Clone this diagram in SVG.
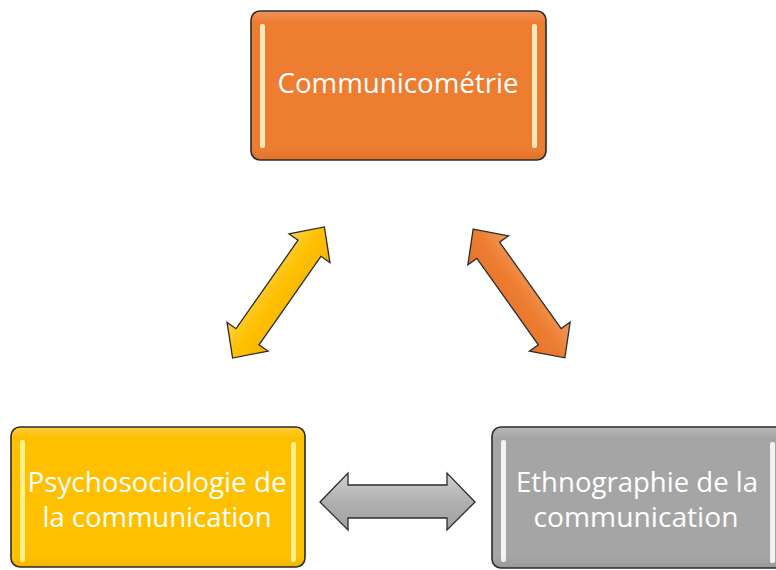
<svg xmlns="http://www.w3.org/2000/svg" width="776" height="570" viewBox="0 0 776 570">
<defs>
<linearGradient id="gOr" x1="0" y1="0" x2="0" y2="1"><stop offset="0" stop-color="#F0935A"/><stop offset="0.08" stop-color="#ED7D31"/><stop offset="0.92" stop-color="#ED7D31"/><stop offset="1" stop-color="#E0722A"/></linearGradient>
<linearGradient id="gYe" x1="0" y1="0" x2="0" y2="1"><stop offset="0" stop-color="#FFCD40"/><stop offset="0.08" stop-color="#FFC000"/><stop offset="0.92" stop-color="#FFC000"/><stop offset="1" stop-color="#F2B400"/></linearGradient>
<linearGradient id="gGr" x1="0" y1="0" x2="0" y2="1"><stop offset="0" stop-color="#B8B8B8"/><stop offset="0.08" stop-color="#A5A5A5"/><stop offset="0.92" stop-color="#A5A5A5"/><stop offset="1" stop-color="#999"/></linearGradient>
<linearGradient id="aGr" x1="0" y1="0" x2="0" y2="1"><stop offset="0" stop-color="#D0D0D0"/><stop offset="0.5" stop-color="#B0B0B0"/><stop offset="1" stop-color="#A0A0A0"/></linearGradient>
<linearGradient id="aYe" x1="0" y1="0" x2="0" y2="1"><stop offset="0" stop-color="#FFD040"/><stop offset="0.5" stop-color="#FFC000"/><stop offset="1" stop-color="#F5B400"/></linearGradient>
<linearGradient id="aOr" x1="0" y1="0" x2="0" y2="1"><stop offset="0" stop-color="#F29A5C"/><stop offset="0.5" stop-color="#ED7D31"/><stop offset="1" stop-color="#E5742A"/></linearGradient>
</defs>
<style>
.box{stroke:#2b2b2b;stroke-width:1.6}
.bar{fill:#FFF3C8;opacity:0.9}
.barW{fill:#FFFFFF;opacity:0.85}
.lbl{font-family:"Open Sans","Liberation Sans",sans-serif;font-size:27px;fill:#FFFFFF;text-anchor:middle}
.arr{stroke:#2b2b2b;stroke-width:1.3;stroke-linejoin:miter}
</style>
<g id="connectors">
<polygon class="arr" fill="url(#aYe)" transform="translate(278.5,292.5) rotate(-55)" points="-80,0 -54,-25 -54,-14 54,-14 54,-25 80,0 54,25 54,14 -54,14 -54,25"/>
<polygon class="arr" fill="url(#aOr)" transform="translate(519,293.5) rotate(54.5)" points="-79,0 -53,-25 -53,-14 53,-14 53,-25 79,0 53,25 53,14 -53,14 -53,25"/>
<polygon class="arr" fill="url(#aGr)" points="320,502 348,473 348,485 447,485 447,473 475,502 447,530 447,518 348,518 348,530"/>
</g>
<g id="node-communicometrie">
<rect class="box" x="251" y="11" width="295" height="149" rx="9" fill="url(#gOr)"/>
<rect class="bar" x="260" y="24" width="5" height="124" rx="2"/>
<rect class="bar" x="532" y="24" width="5" height="124" rx="2"/>
<text class="lbl" x="398" y="93" textLength="241" lengthAdjust="spacingAndGlyphs">Communicométrie</text>
</g>
<g id="node-psychosociologie">
<rect class="box" x="11" y="427" width="294" height="140" rx="9" fill="url(#gYe)"/>
<rect class="bar" x="20" y="440" width="5" height="122" rx="2" style="fill:#FFF59A"/>
<rect class="bar" x="291" y="442" width="5" height="120" rx="2" style="fill:#FFF59A"/>
<text class="lbl" x="157" y="492" textLength="259" lengthAdjust="spacingAndGlyphs">Psychosociologie de</text>
<text class="lbl" x="157" y="527" textLength="229" lengthAdjust="spacingAndGlyphs">la communication</text>
</g>
<g id="node-ethnographie">
<rect class="box" x="492" y="427" width="295" height="141" rx="9" fill="url(#gGr)"/>
<rect class="barW" x="501" y="440" width="5" height="122" rx="2"/>
<rect class="barW" x="770" y="442" width="5" height="121" rx="2"/>
<text class="lbl" x="637" y="492" textLength="242" lengthAdjust="spacingAndGlyphs">Ethnographie de la</text>
<text class="lbl" x="636" y="527" textLength="205" lengthAdjust="spacingAndGlyphs">communication</text>
</g>
</svg>
